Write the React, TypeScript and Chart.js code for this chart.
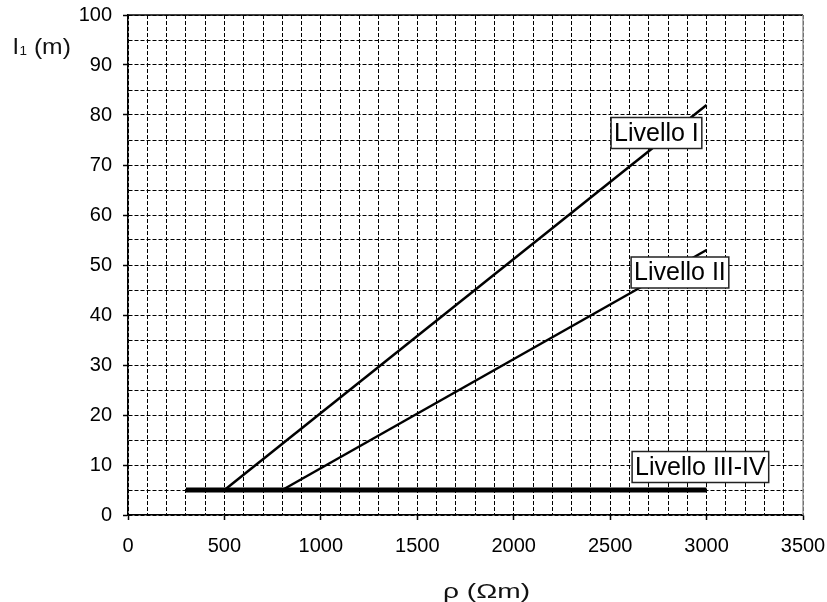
import React, { useEffect, useRef } from "react";
import { Chart, registerables } from "chart.js";

Chart.register(...registerables);

// Data
const rhoLivelloI = [500, 3000];
const l1LivelloI = [5, 82];
const rhoLivelloII = [800, 3000];
const l1LivelloII = [5, 53];
const rhoLivelloIII = [300, 3000];
const l1LivelloIII = [5, 5];

const labelTexts = ["Livello I", "Livello II", "Livello III-IV"];
const labelRho = [2740, 2862, 2968];
const labelL1 = [76.4, 48.5, 9.6];

const xMin = 0;
const xMax = 3500;
const yMin = 0;
const yMax = 100;

const FONT = '"Liberation Sans", Arial, Helvetica, sans-serif';

export default function App() {
  const canvasRef = useRef<HTMLCanvasElement | null>(null);

  useEffect(() => {
    const canvas = canvasRef.current;
    if (!canvas) return;

    const overlay = {
      id: "overlay",
      afterDatasetsDraw(chart: any) {
        const ctx = chart.ctx as CanvasRenderingContext2D;
        const area = chart.chartArea;
        const xs = chart.scales.x;
        const ys = chart.scales.y;
        ctx.save();
        // top border solid
        ctx.setLineDash([]);
        ctx.strokeStyle = "#000";
        ctx.lineWidth = 1.5;
        ctx.beginPath();
        ctx.moveTo(area.left, area.top);
        ctx.lineTo(area.right, area.top);
        ctx.stroke();
        // right border grey
        ctx.strokeStyle = "#999";
        ctx.lineWidth = 1.5;
        ctx.beginPath();
        ctx.moveTo(area.right, area.top);
        ctx.lineTo(area.right, area.bottom);
        ctx.stroke();

        // series labels in boxes
        ctx.font = `25px ${FONT}`;
        ctx.textBaseline = "middle";
        ctx.textAlign = "center";
        for (let i = 0; i < labelTexts.length; i++) {
          const cx = xs.getPixelForValue(labelRho[i]);
          const cy = ys.getPixelForValue(labelL1[i]);
          const w = ctx.measureText(labelTexts[i]).width + 6;
          const h = 31;
          ctx.fillStyle = "#fff";
          ctx.fillRect(cx - w / 2, cy - h / 2, w, h);
          ctx.strokeStyle = "#222";
          ctx.lineWidth = 1.5;
          ctx.strokeRect(cx - w / 2, cy - h / 2, w, h);
          ctx.fillStyle = "#000";
          ctx.fillText(labelTexts[i], cx, cy + 1);
        }

        // x axis title (horizontally widened like the reference glyphs)
        ctx.fillStyle = "#111";
        ctx.font = `21px ${FONT}`;
        ctx.textAlign = "center";
        ctx.textBaseline = "middle";
        const xTitle = "ρ (Ωm)";
        const xTitleW = ctx.measureText(xTitle).width;
        const sx = 87 / xTitleW;
        ctx.save();
        ctx.translate(486.5, 592);
        ctx.scale(sx, 1);
        ctx.fillText(xTitle, 0, 0);
        ctx.restore();

        // y axis title: l1 (m) with subscript
        ctx.textAlign = "left";
        ctx.textBaseline = "alphabetic";
        ctx.save();
        ctx.translate(13, 54);
        ctx.scale(1.12, 1);
        ctx.font = `22px ${FONT}`;
        let x = 0;
        ctx.fillText("l", x, 0);
        x += ctx.measureText("l").width + 1;
        ctx.font = `12px ${FONT}`;
        ctx.fillText("1", x, 1);
        x += ctx.measureText("1").width;
        ctx.font = `22px ${FONT}`;
        ctx.fillText(" (m)", x, 0);
        ctx.restore();
        ctx.restore();
      },
    };

    const majorTickColor = (every: number) => (c: any) =>
      c.tick && Math.abs(c.tick.value % every) < 1e-6 ? "#000" : "rgba(0,0,0,0)";

    const chart = new Chart(canvas, {
      type: "scatter",
      data: {
        datasets: [
          {
            label: "Livello I",
            data: rhoLivelloI.map((x, i) => ({ x, y: l1LivelloI[i] })),
            showLine: true,
            borderColor: "#000",
            borderWidth: 2.5,
            pointRadius: 0,
          },
          {
            label: "Livello II",
            data: rhoLivelloII.map((x, i) => ({ x, y: l1LivelloII[i] })),
            showLine: true,
            borderColor: "#000",
            borderWidth: 2.5,
            pointRadius: 0,
          },
          {
            label: "Livello III-IV",
            data: rhoLivelloIII.map((x, i) => ({ x, y: l1LivelloIII[i] })),
            showLine: true,
            borderColor: "#000",
            borderWidth: 5,
            pointRadius: 0,
          },
        ],
      },
      options: {
        animation: false,
        responsive: false,
        devicePixelRatio: 1,
        layout: { padding: { top: 15, right: 24, left: 0, bottom: 0 } },
        plugins: {
          legend: { display: false },
          tooltip: { enabled: false },
        },
        scales: {
          x: {
            type: "linear",
            min: xMin,
            max: xMax,
            afterFit: (s: any) => {
              s.height = 87;
              s.paddingLeft = 0;
              s.paddingRight = 0;
              s.paddingTop = 0;
              s.paddingBottom = 0;
            },
            ticks: {
              stepSize: 100,
              autoSkip: false,
              maxRotation: 0,
              padding: 14,
              color: "#000",
              font: { family: FONT, size: 20 },
              callback: (v: any) => (Number(v) % 500 === 0 ? String(v) : ""),
            },
            grid: {
              color: "#000",
              lineWidth: 1,
              tickLength: 5,
              tickWidth: 1.5,
              tickBorderDash: [],
              tickColor: majorTickColor(500),
            },
            border: { display: true, color: "#000", width: 1.5, dash: [4, 2] },
          },
          y: {
            type: "linear",
            min: yMin,
            max: yMax,
            afterFit: (s: any) => {
              s.width = 128;
              s.paddingLeft = 0;
              s.paddingRight = 0;
              s.paddingTop = 0;
              s.paddingBottom = 0;
            },
            ticks: {
              stepSize: 5,
              autoSkip: false,
              padding: 11,
              color: "#000",
              font: { family: FONT, size: 20 },
              callback: (v: any) => (Number(v) % 10 === 0 ? String(v) : ""),
            },
            grid: {
              color: "#000",
              lineWidth: 1,
              tickLength: 5,
              tickWidth: 1.5,
              tickBorderDash: [],
              tickColor: majorTickColor(10),
            },
            border: { display: true, color: "#000", width: 1.5, dash: [4, 2] },
          },
        },
      },
      plugins: [overlay],
    });

    return () => {
      chart.destroy();
    };
  }, []);

  return (
    <div
      style={{
        position: "fixed",
        left: 0,
        top: 0,
        width: 827,
        height: 602,
        background: "#fff",
      }}
    >
      <canvas ref={canvasRef} width={827} height={602} style={{ display: "block" }} />
    </div>
  );
}
